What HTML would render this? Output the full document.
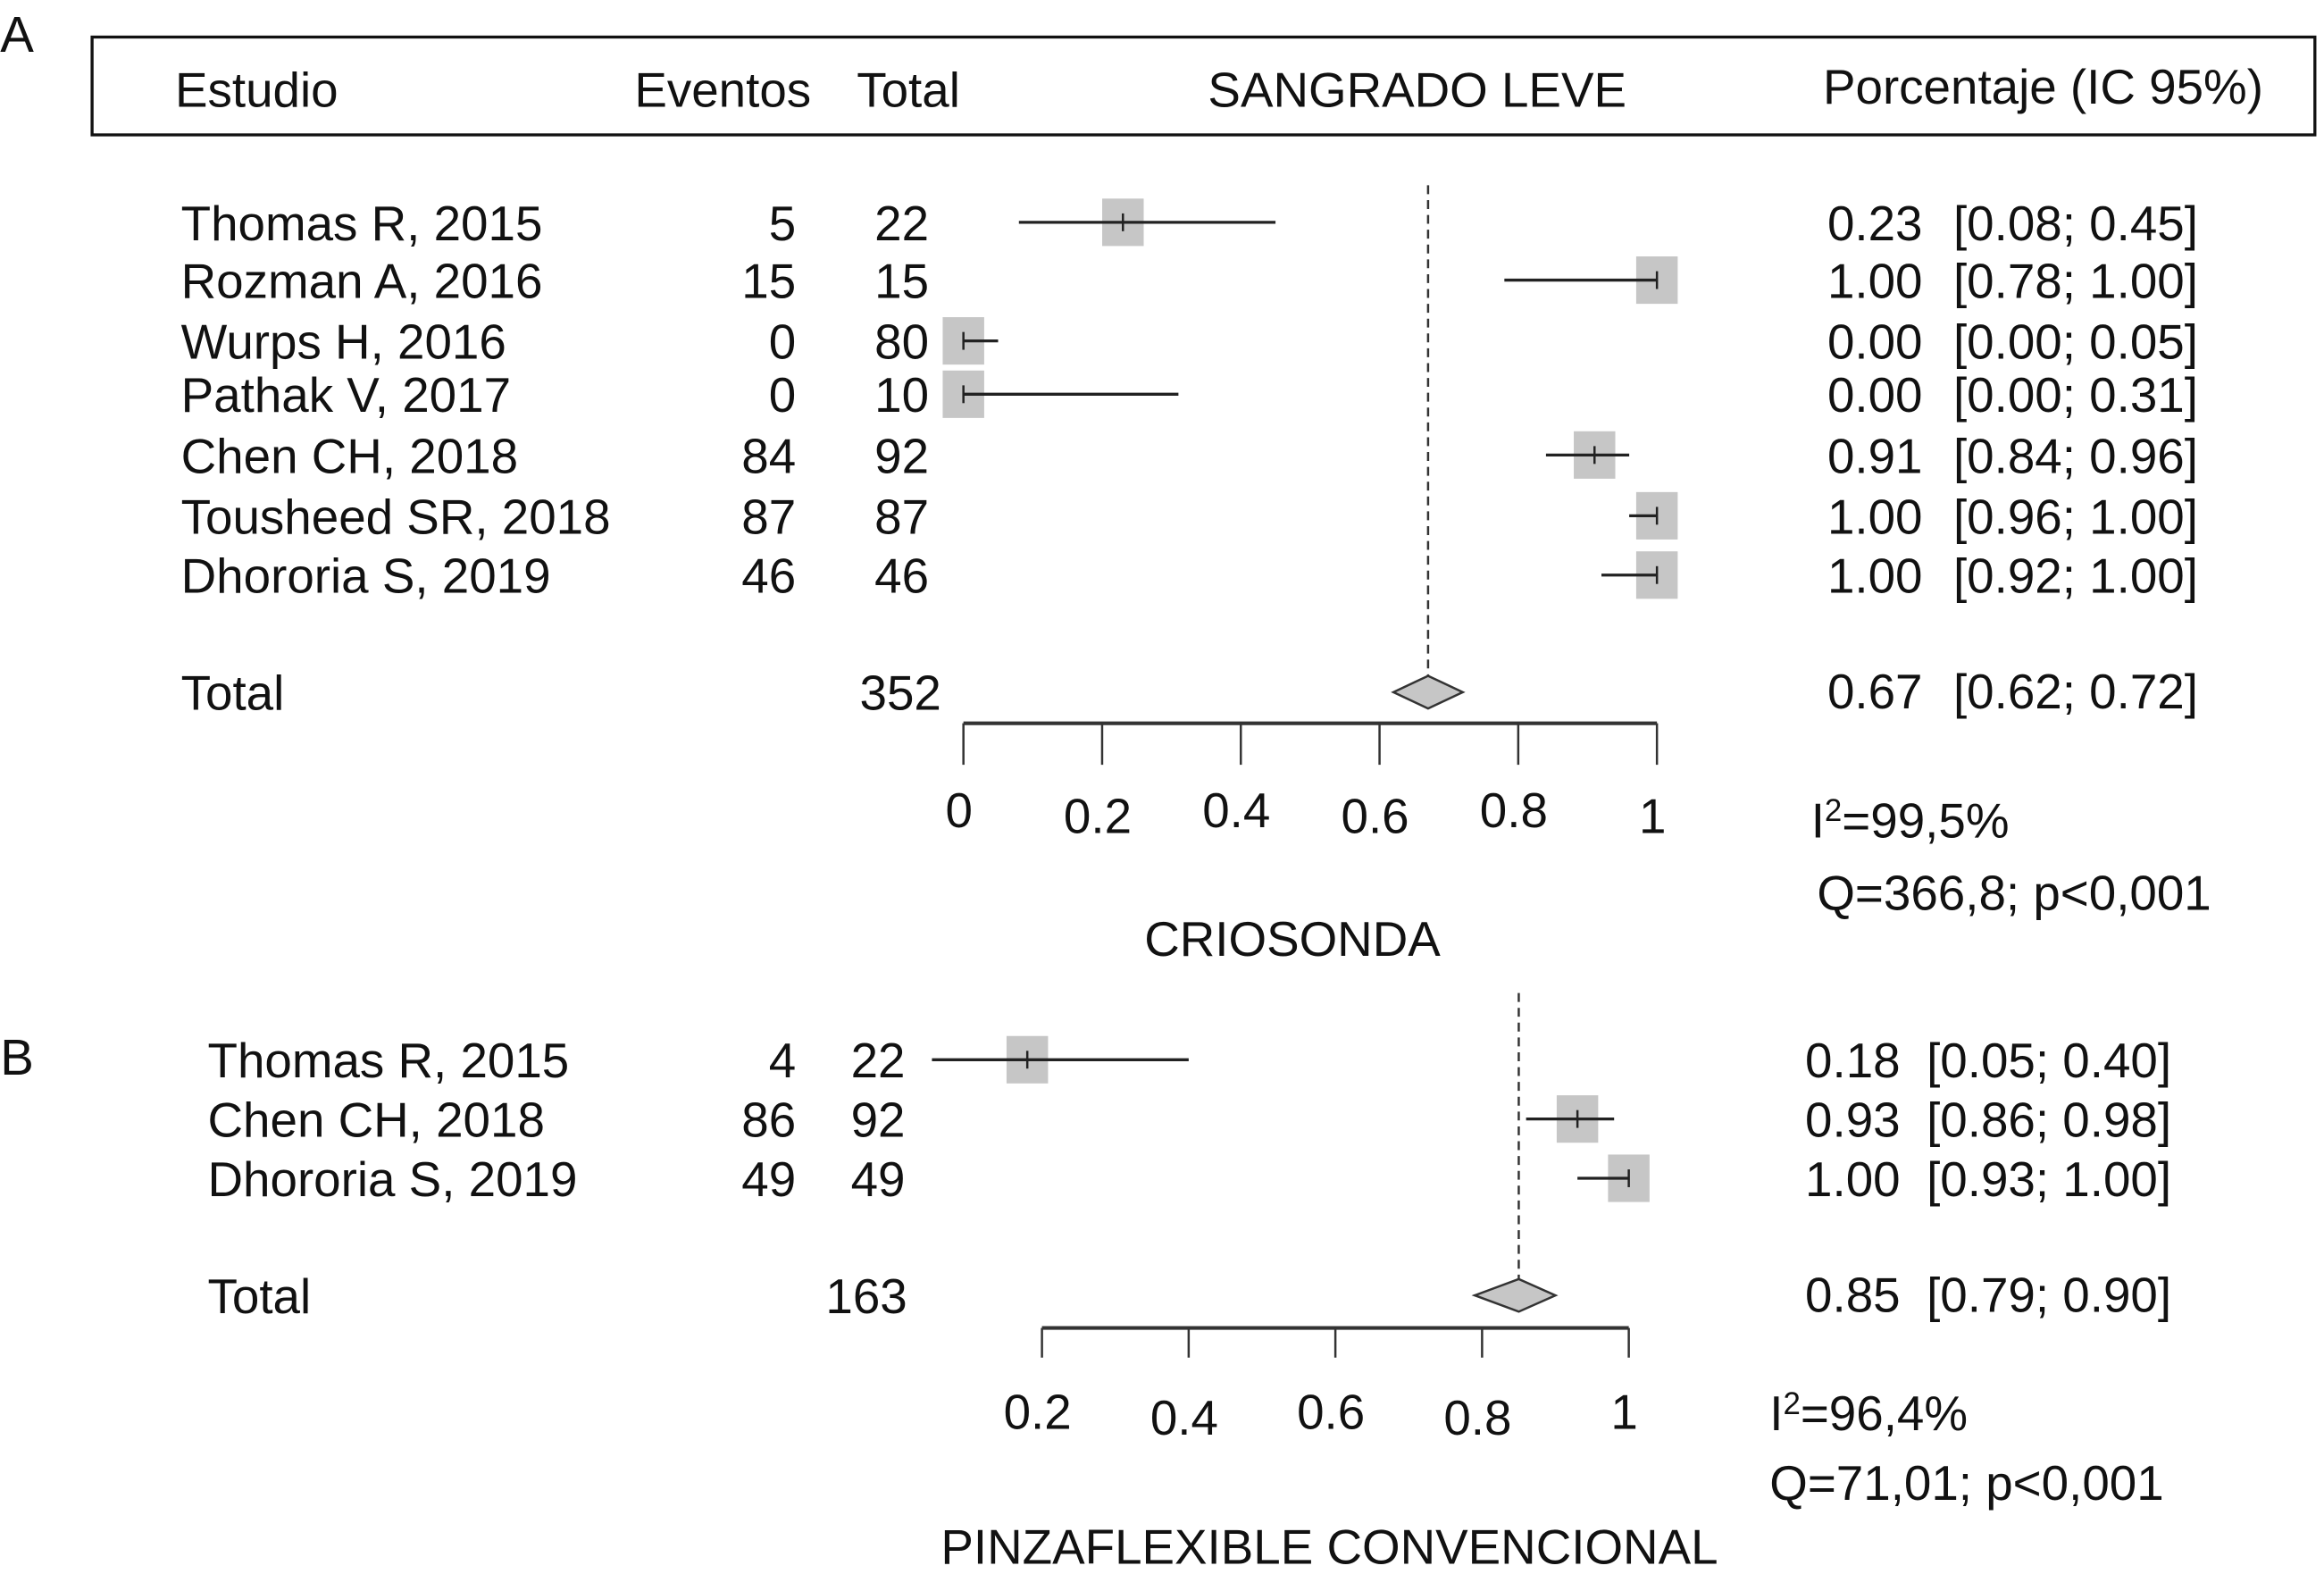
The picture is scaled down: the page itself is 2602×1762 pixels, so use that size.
<!DOCTYPE html>
<html><head><meta charset="utf-8"><style>
html,body{margin:0;padding:0;background:#fff}
svg{display:block}
text{font-family:"Liberation Sans",sans-serif;font-size:33px;fill:#111}
</style></head><body>
<svg id="chart" width="2602" height="1762" viewBox="0 0 1568 1062" xmlns="http://www.w3.org/2000/svg">
<text x="0" y="35" style="font-size:34px">A</text>
<rect x="62" y="25" width="1500" height="66" fill="none" stroke="#111" stroke-width="2"/>
<text x="118" y="72">Estudio</text>
<text x="428" y="72">Eventos</text>
<text x="578" y="72">Total</text>
<text x="815" y="72">SANGRADO LEVE</text>
<text x="1230" y="70">Porcentaje (IC 95%)</text>
<text x="1222" y="565">I<tspan dy="-11" style="font-size:21px">2</tspan><tspan dy="11">=99,5%</tspan></text>
<text x="1226" y="614">Q=366,8; p&lt;0,001</text>
<text x="872" y="645" text-anchor="middle">CRIOSONDA</text>
<text x="0" y="725" style="font-size:34px">B</text>
<text x="1194" y="965">I<tspan dy="-11" style="font-size:21px">2</tspan><tspan dy="11">=96,4%</tspan></text>
<text x="1194" y="1012">Q=71,01; p&lt;0,001</text>
<text x="897" y="1055" text-anchor="middle">PINZAFLEXIBLE CONVENCIONAL</text>
</svg>
<script>
// Panel A data
const studiesA = ["Thomas R, 2015","Rozman A, 2016","Wurps H, 2016","Pathak V, 2017","Chen CH, 2018","Tousheed SR, 2018","Dhororia S, 2019"];
const eventsA = [5,15,0,0,84,87,46];
const totalsA = [22,15,80,10,92,87,46];
const estA = [0.23,1.00,0.00,0.00,0.91,1.00,1.00];
const lowA = [0.08,0.78,0.00,0.00,0.84,0.96,0.92];
const highA = [0.45,1.00,0.05,0.31,0.96,1.00,1.00];
const pooledA = [0.67,0.62,0.72];
const pooledTotalA = 352;
const ticksA = [0,0.2,0.4,0.6,0.8,1];
const tickLabelsA = ["0","0.2","0.4","0.6","0.8","1"];
// Panel B data
const studiesB = ["Thomas R, 2015","Chen CH, 2018","Dhororia S, 2019"];
const eventsB = [4,86,49];
const totalsB = [22,92,49];
const estB = [0.18,0.93,1.00];
const lowB = [0.05,0.86,0.93];
const highB = [0.40,0.98,1.00];
const pooledB = [0.85,0.79,0.90];
const pooledTotalB = 163;
const ticksB = [0.2,0.4,0.6,0.8,1];
const tickLabelsB = ["0.2","0.4","0.6","0.8","1"];

const svg = document.getElementById('chart');
const NS = 'http://www.w3.org/2000/svg';
function mk(tag, attrs, txt){const e=document.createElementNS(NS,tag);for(const k in attrs)e.setAttribute(k,attrs[k]);if(txt!==undefined)e.textContent=txt;svg.appendChild(e);return e;}
const f2 = v => v.toFixed(2);

function panel(cfg){
  const x = v => cfg.x0 + v*cfg.scale;
  let d = mk('line',{x1:x(cfg.pooled[0]),x2:x(cfg.pooled[0]),y1:cfg.dashTop,y2:cfg.diamondY-8,stroke:'#333','stroke-width':1.5,'stroke-dasharray':'6,4'});
  
  
  cfg.studies.forEach((s,i)=>{
    const y = cfg.rowY[i];
    let t = mk('text',{x:cfg.nameX,y:y+12},s);
    
    
    t = mk('text',{x:537,y:y+12,'text-anchor':'end'},String(cfg.events[i]));
    
    
    t = mk('text',{x:cfg.totX,y:y+12},String(cfg.totals[i]));
    
    
    t = mk('text',{x:cfg.ciX,y:y+12},f2(cfg.est[i]));
    
    
    t = mk('text',{x:cfg.ciX+cfg.brX,y:y+12},'['+f2(cfg.low[i])+'; '+f2(cfg.high[i])+']');
    
    
    const r = mk('rect',{x:x(cfg.est[i])-14,y:y-16,width:28,height:32,fill:'#c6c6c6'});
    
    
    const l = mk('line',{x1:x(cfg.low[i]),x2:x(cfg.high[i]),y1:y,y2:y,stroke:'#222','stroke-width':2});
    
    
    const m = mk('line',{x1:x(cfg.est[i]),x2:x(cfg.est[i]),y1:y-6,y2:y+6,stroke:'#222','stroke-width':1.5});
    
    
  });
  const dy = cfg.diamondY;
  let t = mk('text',{x:cfg.nameX,y:dy+12},'Total');
  
  
  t = mk('text',{x:cfg.totalNX,y:dy+12},String(cfg.pooledTotal));
  
  
  t = mk('text',{x:cfg.ciX,y:dy+11},f2(cfg.pooled[0]));
  
  
  t = mk('text',{x:cfg.ciX+cfg.brX,y:dy+11},'['+f2(cfg.pooled[1])+'; '+f2(cfg.pooled[2])+']');
  
  
  const dm = mk('polygon',{points:`${x(cfg.pooled[1])},${dy} ${x(cfg.pooled[0])},${dy-11} ${x(cfg.pooled[2])},${dy} ${x(cfg.pooled[0])},${dy+11}`,fill:'#c6c6c6',stroke:'#333','stroke-width':1.5});
  
  
  const ax = mk('line',{x1:x(cfg.ticks[0]),x2:x(cfg.ticks[cfg.ticks.length-1]),y1:cfg.axisY,y2:cfg.axisY,stroke:'#333','stroke-width':2.5});
  
  
  cfg.ticks.forEach((v,i)=>{
    const tk = mk('line',{x1:x(v),x2:x(v),y1:cfg.axisY,y2:cfg.axisY+cfg.tickLen,stroke:'#333','stroke-width':1.5});
    
    
    const tl = mk('text',{x:x(v)-3,y:cfg.axisY+cfg.labOff+(i%2?4:0),'text-anchor':'middle'},cfg.tickLabels[i]);
    
    
  });
}
panel({p:'a',studies:studiesA,events:eventsA,totals:totalsA,est:estA,low:lowA,high:highA,pooled:pooledA,pooledTotal:pooledTotalA,ticks:ticksA,tickLabels:tickLabelsA,
  x0:650,scale:468,rowY:[150,189,230,266,307,348,388],diamondY:467,dashTop:125,axisY:488,tickLen:28,labOff:70,nameX:122,totX:590,totalNX:580,ciX:1233,brX:85});
panel({p:'b',studies:studiesB,events:eventsB,totals:totalsB,est:estB,low:lowB,high:highB,pooled:pooledB,pooledTotal:pooledTotalB,ticks:ticksB,tickLabels:tickLabelsB,
  x0:604,scale:495,rowY:[715,755,795],diamondY:874,dashTop:670,axisY:896,tickLen:20,labOff:68,nameX:140,totX:574,totalNX:557,ciX:1218,brX:82});
</script>
</body></html>
